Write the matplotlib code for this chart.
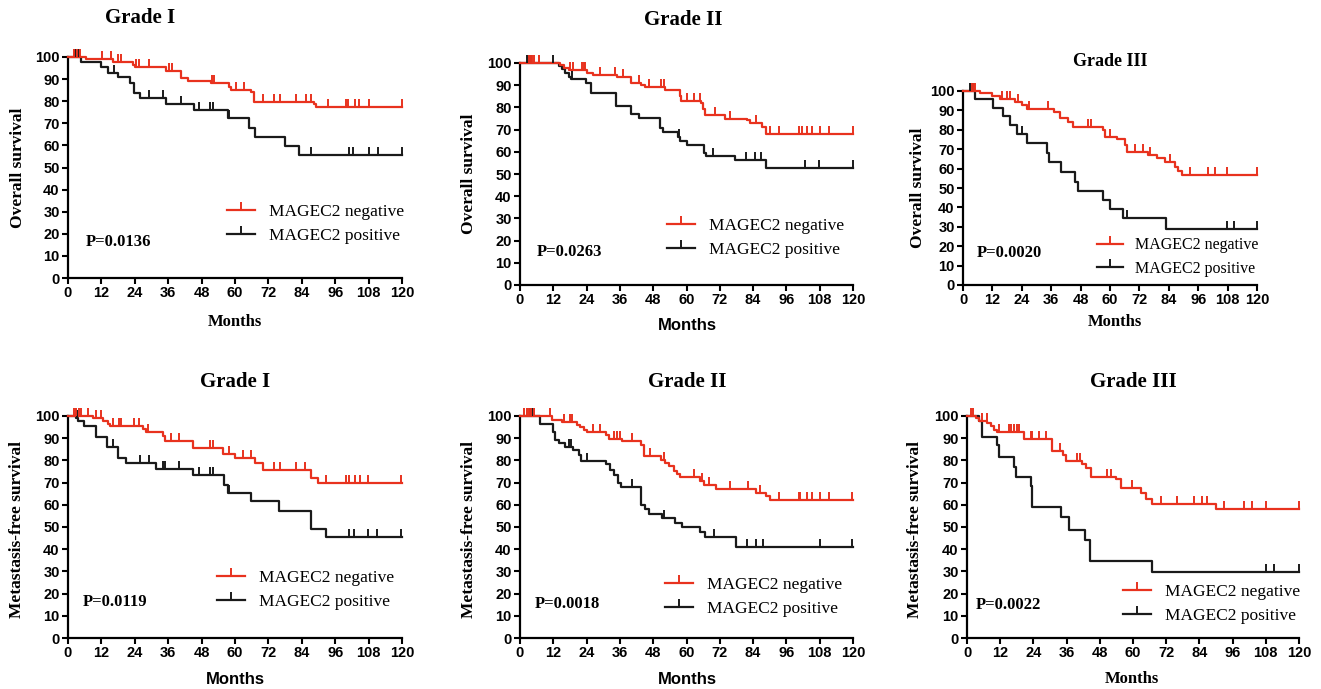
import numpy as np
import matplotlib
matplotlib.use("Agg")
import matplotlib.pyplot as plt
from matplotlib.lines import Line2D

RED = '#E8321E'
BLACK = '#1a1a1a'
SERIF = 'Liberation Serif'
SANS = 'Liberation Sans'

# ---- Overall survival, Grade I
os1_neg_t = [6.5, 16, 23.2, 24.2, 35.2, 40.6, 43, 51.4, 58, 58.6, 65.8, 67, 88.5, 89.1]
os1_neg_s = [98.9, 97.9, 96.4, 95.3, 93.8, 90.7, 89.3, 88.4, 86.5, 85.1, 84.3, 79.8, 78.7, 77.6]
os1_neg_c = [2.3, 3.2, 4.2, 12.2, 15.5, 17.8, 19, 24.6, 25.6, 29.2, 36.4, 37.4, 51.8, 52.4,
             60.4, 63.4, 70, 74.1, 76, 82, 85.5, 87.3, 93.3, 99.9, 100.5, 103, 104.7, 108, 120]
os1_pos_t = [4.7, 12, 14.3, 17.8, 22.1, 23.8, 25.9, 35.2, 45.4, 57.4, 64.9, 67.3, 78.1, 83.1]
os1_pos_s = [97.6, 95.3, 92.9, 90.8, 88.4, 83.9, 81.3, 78.8, 75.8, 72.3, 67.8, 63.7, 59.8, 55.6]
os1_pos_c = [2.5, 3.5, 16.7, 29.2, 34, 40.6, 47.2, 51, 52, 58, 87.3, 101, 102.5, 108, 111.3, 120]

# ---- Overall survival, Grade II
os2_neg_t = [14.5, 15.7, 17.5, 24.1, 26.3, 34.9, 40, 43.6, 45.2, 52.4, 57.5, 58.1, 65.2, 65.9,
             66.8, 74, 81.8, 83, 87.2, 88.8]
os2_neg_s = [99, 97.9, 96.7, 95.5, 94.7, 93.6, 91.2, 90.1, 89, 87.8, 85.1, 83, 81.8, 79.5,
             76.5, 75, 74.2, 73, 71.2, 68.2]
os2_neg_c = [3.1, 3.7, 4.3, 4.9, 6.7, 18, 19, 22.3, 22.9, 23.5, 29, 34.4, 37.1, 43, 46.5, 50.8,
             51.8, 60.2, 62.6, 64.8, 70.4, 75.8, 85.2, 90.2, 93.2, 100.4, 101.6, 103.4, 105.2,
             108.2, 111.2, 120]
os2_pos_t = [13.9, 15.1, 16.3, 17.5, 18.3, 23.8, 25.6, 34.6, 40, 43, 50.6, 51.4, 56.8, 57.6,
             60, 66.4, 67, 77.5, 88.6]
os2_pos_s = [98.6, 97.2, 95.3, 93.8, 92.6, 90.9, 86.6, 80.6, 76.9, 75.1, 70.9, 68.9, 66.8, 64.9,
             62.9, 59.6, 58.1, 56.3, 52.9]
os2_pos_c = [2.5, 3.2, 4, 12, 18.8, 57.2, 69.6, 81.4, 84.8, 86.8, 102.7, 107.7, 120]

# ---- Overall survival, Grade III
os3_neg_t = [6.9, 11.7, 15.1, 21.2, 23.9, 26, 37, 39.6, 43, 45, 57.3, 58, 62.7, 66, 66.8, 75.7,
             79, 82.4, 86.5, 87.9, 89.3]
os3_neg_s = [98.8, 97.6, 95.9, 94.2, 92.8, 90.7, 89.4, 86.3, 83.9, 81.7, 79.9, 76.5, 75.1, 72.2,
             68.7, 67, 65.3, 63.2, 61, 58.8, 56.7]
os3_neg_c = [3.7, 4.3, 4.9, 15.8, 17.8, 19.2, 22.6, 27, 34.8, 51.1, 52.1, 60, 70, 73.6, 76.5,
             84.5, 92.7, 99.8, 102.9, 107.6, 120]
os3_pos_t = [4.9, 12.1, 16.5, 19.2, 21.9, 26, 34.4, 35.2, 39.8, 45.7, 47, 57.3, 60, 65.2, 82.9]
os3_pos_s = [95.9, 91.1, 86.9, 82.5, 77.7, 73, 67.8, 63.2, 58.4, 53.2, 48.4, 43.8, 39.2, 34.4, 28.9]
os3_pos_c = [3, 4, 24, 66.8, 107.6, 110.6, 120]

# ---- Metastasis-free survival, Grade I
mf1_neg_t = [8.9, 12.7, 14.3, 15, 27.1, 28, 34, 35, 44.8, 55.8, 60.1, 67.3, 70, 87.3, 89.7]
mf1_neg_s = [99.1, 97.6, 96.4, 95.3, 94.2, 92.7, 90.8, 88.6, 85.6, 82.9, 81.1, 78.8, 75.8, 72.1, 69.8]
mf1_neg_c = [2.3, 3, 3.8, 4.7, 7.1, 10.1, 11.9, 16, 18.4, 19, 23.8, 25.6, 28.6, 37, 40, 51, 52,
             58, 62.8, 65.8, 74.1, 76, 82, 85, 92.7, 100, 101, 103, 105, 107.7, 119.7]
mf1_pos_t = [2.9, 3.5, 5.9, 10.1, 13.9, 17.8, 20.8, 31.6, 45, 56.2, 57.4, 65.8, 75.7, 87.3, 92.7]
mf1_pos_s = [99, 97.6, 95.3, 90.4, 85.9, 81.1, 78.8, 76.3, 73.3, 69.1, 65.3, 61.6, 57.4, 49.3, 45.5]
mf1_pos_c = [3.2, 16, 25.9, 29, 34, 35, 40, 47, 51, 52, 57.8, 100.9, 102.6, 107.7, 110.9, 119.7]

# ---- Metastasis-free survival, Grade II
mf2_neg_t = [11.5, 15.1, 20.5, 21.7, 22.9, 24.1, 31.1, 31.9, 36.8, 43.6, 44.6, 50.8, 52.4, 53.6,
             55.4, 56.6, 57.8, 64.8, 66.2, 70.8, 85.2, 88.8, 90]
mf2_neg_s = [98.3, 97.3, 96.1, 94.9, 93.7, 92.8, 91.3, 89.8, 88.6, 87.1, 81.9, 80.4, 78.9, 77.4,
             75.4, 73.9, 72.4, 70.9, 69.1, 67.1, 65.3, 63.8, 62.3]
mf2_neg_c = [1.5, 2.5, 3.3, 4.1, 4.9, 10.9, 15.7, 18.1, 18.7, 26.3, 29, 33.8, 35, 36.2, 40.4, 47,
             52, 62.6, 65.5, 68, 75.8, 82, 86.5, 93.2, 100.4, 101, 103.4, 105.2, 108.2, 111.2, 119.6]
mf2_pos_t = [7.1, 11.9, 12.7, 13.9, 16.3, 19.1, 21.1, 22, 31.1, 32.3, 33.8, 35.2, 36.4, 43.6,
             45.2, 46.4, 51.2, 56, 58.4, 65, 66.8, 78]
mf2_pos_s = [96.4, 92.8, 89.3, 87.8, 85.9, 84.8, 82.6, 79.9, 78.4, 75.9, 73.6, 69.9, 67.9, 60.1,
             57.9, 55.9, 54.1, 51.8, 49.8, 47.7, 45.3, 40.8]
mf2_pos_c = [3.7, 4.3, 17.5, 18.5, 24.1, 40.4, 51.8, 70, 81.8, 85.2, 87.6, 108.2, 119.6]

# ---- Metastasis-free survival, Grade III
mf3_neg_t = [3.1, 4.3, 7.3, 8.6, 9.8, 10.9, 20.6, 30.8, 34.6, 35.7, 41.7, 43, 44.8, 53.7, 55.5,
             62.8, 64.6, 67, 89.9]
mf3_neg_s = [99.1, 97.9, 96.8, 95.3, 93.8, 92.8, 89.5, 84.4, 82.6, 79.6, 78.4, 76.6, 72.4, 71.4,
             67.6, 65.3, 62.8, 60.4, 58.3]
mf3_neg_c = [1.4, 2.2, 5.5, 7.1, 11.6, 15.2, 15.8, 17, 18.2, 18.8, 23, 23.6, 26, 28.4, 33.5, 39.6,
             41, 50.7, 51.9, 59.8, 70, 76, 82, 85, 86.9, 92.9, 100.1, 103.1, 108, 120]
mf3_pos_t = [4.3, 5.5, 10.9, 11.6, 17, 17.6, 23, 23.6, 33.9, 36.9, 42.5, 44.5, 67]
mf3_pos_s = [97.6, 90.4, 86.8, 81.4, 76.9, 72.4, 68.3, 58.8, 54.4, 48.8, 44.3, 34.5, 29.7]
mf3_pos_c = [108, 111, 120]

titles = ['Grade I', 'Grade II', 'Grade III', 'Grade I', 'Grade II', 'Grade III']
ylabels = ['Overall survival'] * 3 + ['Metastasis-free survival'] * 3
pvalues = ['P=0.0136', 'P=0.0263', 'P=0.0020', 'P=0.0119', 'P=0.0018', 'P=0.0022']
xticks = list(range(0, 121, 12))
yticks = list(range(0, 101, 10))

curves = [
    (os1_neg_t, os1_neg_s, os1_neg_c, os1_pos_t, os1_pos_s, os1_pos_c),
    (os2_neg_t, os2_neg_s, os2_neg_c, os2_pos_t, os2_pos_s, os2_pos_c),
    (os3_neg_t, os3_neg_s, os3_neg_c, os3_pos_t, os3_pos_s, os3_pos_c),
    (mf1_neg_t, mf1_neg_s, mf1_neg_c, mf1_pos_t, mf1_pos_s, mf1_pos_c),
    (mf2_neg_t, mf2_neg_s, mf2_neg_c, mf2_pos_t, mf2_pos_s, mf2_pos_c),
    (mf3_neg_t, mf3_neg_s, mf3_neg_c, mf3_pos_t, mf3_pos_s, mf3_pos_c),
]

W, H = 1321, 689

def fx(x):
    return x / W

def fy(y):
    return 1 - y / H

# layout in pixels: axes box (x0, x120, y100, y0), title, ylabel, xlabel, legend, p-value
axes_px = [(68, 402, 57, 278), (520, 853, 63, 285), (963, 1257, 91, 285),
           (68, 402, 416, 638), (520, 853, 416, 638), (967, 1299, 416, 638)]
title_px = [(140, 18, 15), (683, 20, 15), (1110, 61, 13), (235, 382, 15), (687, 382, 15), (1133, 382, 15)]
ylab_px = [(18, 168), (469, 174), (918, 188), (17, 529), (469, 529), (915, 529)]
xlab_px = [(235, 322, SERIF), (687, 325, SANS), (1115, 322, SERIF),
           (235, 679, SANS), (687, 679, SANS), (1132, 679, SERIF)]
leg_px = [(227, 224, 12.5), (667, 238, 12.5), (1097, 257, 11.5),
          (217, 590, 12.5), (665, 597, 12.5), (1123, 604, 12.5)]
p_px = [(86, 242), (537, 252), (977, 253), (83, 602), (535, 604), (976, 605)]


def km(ax, t, s, c, color):
    xs = [0] + list(t) + [120]
    ys = [100] + list(s) + [s[-1]]
    ax.plot(xs, ys, drawstyle='steps-post', color=color, lw=1.6, clip_on=False, zorder=3)
    t_arr = np.array(t)
    s_arr = np.array([100] + list(s))
    cy = s_arr[np.searchsorted(t_arr, np.array(c), side='right')]
    ax.plot(c, cy, ls='none', marker=2, ms=5.5, mew=1.4, color=color, clip_on=False, zorder=4)


fig = plt.figure(figsize=(W / 100, H / 100), dpi=100)

for i in range(6):
    x0, x1, y1, y0 = axes_px[i]
    ax = fig.add_axes([fx(x0), fy(y0), (x1 - x0) / W, (y0 - y1) / H])
    neg_t, neg_s, neg_c, pos_t, pos_s, pos_c = curves[i]
    km(ax, pos_t, pos_s, pos_c, BLACK)
    km(ax, neg_t, neg_s, neg_c, RED)
    ax.set_xlim(0, 120)
    ax.set_ylim(0, 100)
    ax.set_xticks(xticks)
    ax.set_yticks(yticks)
    for side in ['top', 'right']:
        ax.spines[side].set_visible(False)
    for side in ['left', 'bottom']:
        ax.spines[side].set_linewidth(1.6)
    ax.tick_params(direction='out', length=4.5, width=1.5, pad=1.5)
    for lab in ax.get_xticklabels() + ax.get_yticklabels():
        lab.set_fontfamily(SANS)
        lab.set_fontweight('bold')
        lab.set_fontsize(10.5)

    tx, ty, ts = title_px[i]
    fig.text(fx(tx), fy(ty), titles[i], ha='center', va='center',
             family=SERIF, weight='bold', fontsize=ts)
    lx, ly = ylab_px[i]
    fig.text(fx(lx), fy(ly), ylabels[i], ha='center', va='center', rotation=90,
             family=SERIF, weight='bold', fontsize=12.5)
    mx, my, mf = xlab_px[i]
    fig.text(fx(mx), fy(my), 'Months', ha='center', va='center',
             family=mf, weight='bold', fontsize=12)
    px, py = p_px[i]
    fig.text(fx(px), fy(py), pvalues[i], ha='left', va='center',
             family=SERIF, weight='bold', fontsize=12)

    gx, gy, gs = leg_px[i]
    handles = [Line2D([], [], color=RED, lw=1.6, marker=2, ms=5.5, mew=1.4),
               Line2D([], [], color=BLACK, lw=1.6, marker=2, ms=5.5, mew=1.4)]
    fig.legend(handles, ['MAGEC2 negative', 'MAGEC2 positive'], loc='center left',
               bbox_to_anchor=(fx(gx), fy(gy)), frameon=False, numpoints=1,
               handlelength=1.6, handletextpad=0.8, labelspacing=0.45,
               borderpad=0, borderaxespad=0, prop={'family': SERIF, 'size': gs})

fig.savefig('out.png', dpi=100)
